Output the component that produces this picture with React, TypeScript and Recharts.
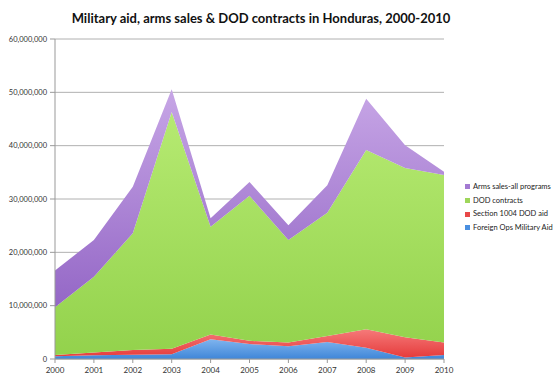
import React from 'react';
import { AreaChart, Area, XAxis, YAxis, CartesianGrid } from 'recharts';

const years = ['2000', '2001', '2002', '2003', '2004', '2005', '2006', '2007', '2008', '2009', '2010'];

// values in dollars
const foreignOps = [500000, 700000, 800000, 900000, 3700000, 2800000, 2400000, 3200000, 2100000, 300000, 750000];
const section1004 = [250000, 500000, 900000, 1000000, 900000, 600000, 700000, 1100000, 3500000, 3800000, 2350000];
const dodContracts = [8950000, 14200000, 21900000, 44400000, 20200000, 27200000, 19200000, 23100000, 33600000, 31700000, 31400000];
const armsSales = [6900000, 6900000, 8700000, 4300000, 1600000, 2600000, 2800000, 5200000, 9600000, 4300000, 600000];

const yTicks = [0, 10000000, 20000000, 30000000, 40000000, 50000000, 60000000];

const series = [
  { key: 'foreignOps', name: 'Foreign Ops Military Aid', top: '#7fb4ee', bottom: '#3f86d8', swatch: '#4a8fe0' },
  { key: 'section1004', name: 'Section 1004 DOD aid', top: '#f57a7a', bottom: '#e63c3c', swatch: '#e84848' },
  { key: 'dodContracts', name: 'DOD contracts', top: '#b6ea72', bottom: '#93d24c', swatch: '#9ed65a' },
  { key: 'armsSales', name: 'Arms sales-all programs', top: '#c7a6e6', bottom: '#9467c6', swatch: '#a37ad2' },
];

const data = years.map((y, i) => ({
  year: y,
  foreignOps: foreignOps[i],
  section1004: section1004[i],
  dodContracts: dodContracts[i],
  armsSales: armsSales[i],
}));

const fmt = (v: number) => v.toLocaleString('en-US');

const font = 'Lato, "Liberation Sans", sans-serif';

export default function App() {
  return (
    <div style={{ position: 'fixed', left: 0, top: 0, width: 553, height: 374, background: '#fff', fontFamily: font }}>
      <div
        style={{
          position: 'absolute',
          left: 0,
          width: 522,
          top: 10,
          textAlign: 'center',
          fontSize: 13,
          fontWeight: 700,
          color: '#111',
        }}
      >
        Military aid, arms sales &amp; DOD contracts in Honduras, 2000-2010
      </div>
      <AreaChart width={553} height={374} data={data} margin={{ top: 39, right: 109, bottom: 0, left: 0 }}>
        <defs>
          {series.map(s => (
            <linearGradient key={s.key} id={`g-${s.key}`} x1="0" y1="0" x2="0" y2="1">
              <stop offset="0%" stopColor={s.top} />
              <stop offset="100%" stopColor={s.bottom} />
            </linearGradient>
          ))}
        </defs>
        <CartesianGrid vertical={false} stroke="#b0b0b0" strokeWidth={1} />
        <XAxis
          dataKey="year"
          height={15}
          tickSize={4}
          tickMargin={4}
          axisLine={{ stroke: '#999' }}
          tickLine={{ stroke: '#999' }}
          tick={{ fontSize: 8, fill: '#333', fontFamily: font }}
          interval={0}
        />
        <YAxis
          width={55}
          domain={[0, 60000000]}
          ticks={yTicks}
          tickFormatter={fmt}
          tickSize={5}
          tickMargin={3}
          axisLine={{ stroke: '#999' }}
          tickLine={{ stroke: '#999' }}
          tick={{ fontSize: 7.5, fill: '#333', fontFamily: font }}
          allowDataOverflow
        />
        {series.map(s => (
          <Area
            key={s.key}
            type="linear"
            dataKey={s.key}
            name={s.name}
            stackId="1"
            stroke="none"
            fill={`url(#g-${s.key})`}
            fillOpacity={1}
            isAnimationActive={false}
          />
        ))}
      </AreaChart>
      <div style={{ position: 'absolute', left: 465, top: 180, fontSize: 7.5, color: '#222', lineHeight: '13.7px' }}>
        {[...series].reverse().map(s => (
          <div key={s.key} style={{ display: 'flex', alignItems: 'center', whiteSpace: 'nowrap' }}>
            <span style={{ display: 'inline-block', width: 5, height: 5, background: s.swatch, marginRight: 3 }} />
            {s.name}
          </div>
        ))}
      </div>
    </div>
  );
}
